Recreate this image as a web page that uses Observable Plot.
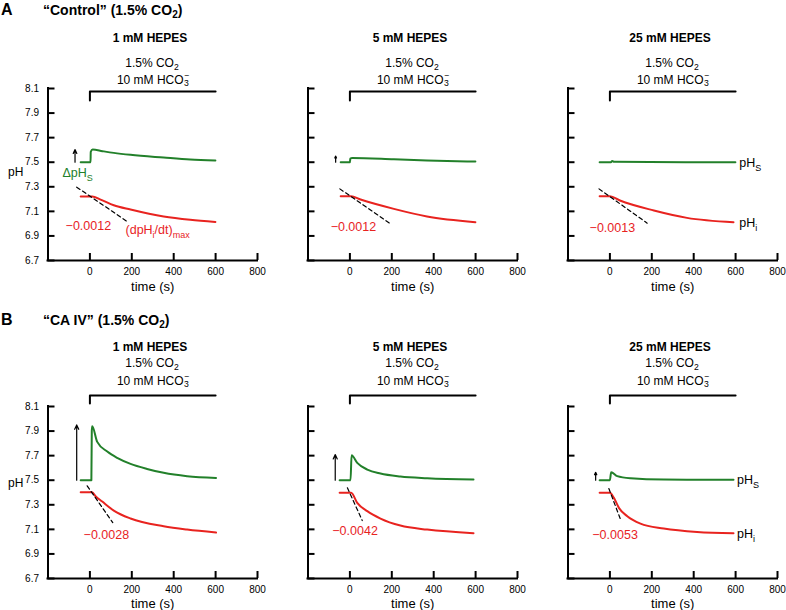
<!DOCTYPE html>
<html><head><meta charset="utf-8">
<script src="https://cdn.jsdelivr.net/npm/d3@7"></script>
<script src="https://cdn.jsdelivr.net/npm/@observablehq/plot@0.6"></script>
<style>
body{margin:0;background:#fff;font-family:"Liberation Sans",Arial,sans-serif;}
#root{position:relative;width:786px;height:610px;overflow:hidden;background:#fff;}
.lbl{position:absolute;white-space:nowrap;line-height:1;color:#000;}
.lbl sub{font-size:0.72em;vertical-align:-0.3em;line-height:0;}
.ss{display:inline-block;white-space:pre;font-size:0.72em;line-height:0.86em;vertical-align:-0.2em;text-align:left;margin:-0.5em 0 -0.3em 0.5px;}
svg.panel{position:absolute;overflow:visible;}
</style></head><body><div id="root"></div><script>
// ---------- data ----------
const rowLetters = ["A", "B"];
const rowTitles = ["“Control” (1.5% CO<sub>2</sub>)", "“CA IV” (1.5% CO<sub>2</sub>)"];
const hepes = ["1 mM HEPES", "5 mM HEPES", "25 mM HEPES"];
const co2Line1 = "1.5% CO<sub>2</sub>";
const co2Line2 = "10 mM HCO<span class=\"ss\">−\n3</span>";
const xTicks = [0, 200, 400, 600, 800];
const yTicks = [6.7, 6.9, 7.1, 7.3, 7.5, 7.7, 7.9, 8.1];
const co2Period = [0, 600];
const slopeLabels = [["−0.0012", "−0.0012", "−0.0013"], ["−0.0028", "−0.0042", "−0.0053"]];

// pHs (surface, green) traces [time s, pH]
const pHsA1 = [[-44,7.5],[3,7.5],[4,7.585],[13,7.603],[60,7.59],[114,7.576],[194,7.56],[352,7.538],[479,7.522],[599,7.514]];
const pHsA2 = [[-44,7.5],[0,7.5],[2,7.53],[11,7.535],[210,7.524],[368,7.514],[599,7.505]];
const pHsA3 = [[-49,7.5],[5,7.5],[11,7.51],[20,7.503],[599,7.5]];
const pHsB1 = [[-44,7.5],[7,7.5],[9,7.9],[11,7.94],[35,7.812],[83,7.733],[130,7.682],[194,7.633],[273,7.592],[352,7.56],[464,7.533],[602,7.519]];
const pHsB2 = [[-49,7.5],[3,7.5],[8,7.703],[35,7.641],[83,7.587],[146,7.554],[241,7.53],[369,7.516],[590,7.505]];
const pHsB3 = [[-49,7.5],[0,7.5],[6,7.565],[35,7.533],[99,7.516],[257,7.505],[590,7.503]];
// pHi (intracellular, red) traces
const pHiA1 = [[-44,7.221],[11,7.221],[51,7.196],[114,7.15],[194,7.115],[352,7.058],[479,7.031],[599,7.014]];
const pHiA2 = [[-44,7.223],[5,7.223],[51,7.196],[210,7.12],[368,7.058],[599,7.012]];
const pHiA3 = [[-49,7.223],[0,7.223],[48,7.188],[210,7.107],[368,7.047],[590,7.012]];
const pHiB1 = [[-44,7.402],[11,7.402],[27,7.37],[59,7.326],[114,7.253],[194,7.188],[352,7.125],[464,7.098],[602,7.074]];
const pHiB2 = [[-49,7.397],[6,7.397],[35,7.316],[83,7.248],[146,7.188],[241,7.131],[369,7.098],[590,7.069]];
const pHiB3 = [[-49,7.397],[0,7.397],[19,7.356],[43,7.275],[83,7.207],[146,7.147],[257,7.107],[416,7.079],[590,7.069]];
// (dpHi/dt)max tangent lines
const tanA1 = [[-63,7.297],[181,7.014]];
const tanA2 = [[-48,7.283],[199,6.993]];
const tanA3 = [[-52,7.283],[178,7.004]];
const tanB1 = [[-13,7.454],[109,7.155]];
const tanB2 = [[-12,7.438],[59,7.172]];
const tanB3 = [[-5,7.432],[54,7.166]];
// ΔpHs arrows: [time, pH from, pH to]
const dpHsA = [[-71,7.5,7.603],[-68,7.5,7.55],null];
const dpHsB = [[-63,7.5,7.95],[-70,7.5,7.709],[-68,7.5,7.565]];

// ---------- layout ----------
const green = "#22802a", red = "#e8231f";
const W = 260, ML = 47.5, MR = 3;
const rows = [{top: 0, height: 300, mt: 88, mb: 40, hep: 38, l1: 63, l2: 80, title: 9.5, bracket: [3, 12], pHy: 7.42},
              {top: 318, height: 292, mt: 88, mb: 32, hep: 347, l1: 363, l2: 381, title: 320, bracket: [-11, -3], pHy: 7.48}];
const ky = 172 / 1.4;
const slopePos = [[[-116,6.979],[-92,6.971],[-97,6.968]], [[-30,7.058],[-84,7.085],[-84,7.056]]];
const root = document.getElementById("root");

function label(html, x, yc, size, weight, anchor) {
  const d = document.createElement("div");
  d.className = "lbl";
  d.innerHTML = html;
  d.style.fontSize = size + "px";
  d.style.fontWeight = weight;
  d.style.top = (yc - 0.49 * size) + "px";
  d.style.left = x + "px";
  if (anchor === "middle") d.style.transform = "translateX(-50%)";
  root.appendChild(d);
}

function subify(svg, fs) {
  for (const t of svg.querySelectorAll("text")) {
    const s = t.textContent;
    if (!/[_^]\{/.test(s)) continue;
    while (t.firstChild) t.removeChild(t.firstChild);
    const re = /([_^])\{([^}]*)\}/g;
    let last = 0, m, shift = 0;
    const add = (txt, sh, small) => {
      const ts = document.createElementNS("http://www.w3.org/2000/svg", "tspan");
      ts.textContent = txt;
      const d = sh - shift;
      if (d) ts.setAttribute("dy", d);
      shift = sh;
      if (small) ts.setAttribute("font-size", fs * 0.72);
      t.appendChild(ts);
    };
    while ((m = re.exec(s))) {
      if (m.index > last) add(s.slice(last, m.index), 0, false);
      add(m[2], m[1] === "_" ? fs * 0.32 : -fs * 0.4, true);
      last = re.lastIndex;
    }
    if (last < s.length) add(s.slice(last), 0, false);
  }
}

const pHsAll = [[pHsA1, pHsA2, pHsA3], [pHsB1, pHsB2, pHsB3]];
const pHiAll = [[pHiA1, pHiA2, pHiA3], [pHiB1, pHiB2, pHiB3]];
const tanAll = [[tanA1, tanA2, tanA3], [tanB1, tanB2, tanB3]];
const dpHsAll = [dpHsA, dpHsB];
const px = d => d[0], py = d => d[1];

rows.forEach((R, r) => {
  label(rowLetters[r], 1, R.title, 16, "bold");
  label(rowTitles[r], 43, R.title, 14, "bold");
  for (let c = 0; c < 3; c++) {
    const cx = c * W;
    label(hepes[c], cx + 150, R.hep, 12, "bold", "middle");
    label(co2Line1, cx + 152, R.l1, 12, "normal", "middle");
    label(co2Line2, cx + 153, R.l2, 12, "normal", "middle");

    const yb0 = 8.1 - R.bracket[0] / ky, yb1 = 8.1 - R.bracket[1] / ky;
    const ax = dpHsAll[r][c];
    const kx = (W - ML - MR) / 1000;
    const marks = [
      Plot.ruleX([-200], {stroke: "black", strokeWidth: 2, strokeLinecap: "square"}),
      Plot.ruleY([6.7], {stroke: "black", strokeWidth: 2, strokeLinecap: "square"}),
      Plot.ruleX(xTicks, {y1: 6.7, y2: 6.7 + 7 / ky, stroke: "black", strokeWidth: 2}),
      Plot.ruleY(yTicks, {x1: -200, x2: -200 + 7 / kx, stroke: "black", strokeWidth: 2}),
      Plot.axisX({ticks: xTicks, tickSize: 0, tickPadding: 7, fontSize: 10, label: null, tickFormat: d => String(d)}),
      Plot.axisY({ticks: yTicks, tickSize: 0, tickPadding: 9, fontSize: 10, label: null, tickFormat: c === 0 ? d3.format(".1f") : () => ""}),
      Plot.text(["time (s)"], {frameAnchor: "bottom", x: 300, dy: r === 0 ? 26 : 25, fontSize: 13, lineAnchor: "middle"}),
      Plot.line([[co2Period[0], yb1], [co2Period[0], yb0], [co2Period[1], yb0]], {x: px, y: py, stroke: "black", strokeWidth: 2}),
      Plot.line(pHsAll[r][c], {x: px, y: py, stroke: green, strokeWidth: 2, curve: "monotone-x"}),
      Plot.line(pHiAll[r][c], {x: px, y: py, stroke: red, strokeWidth: 2, curve: "monotone-x"}),
      Plot.line(tanAll[r][c], {x: px, y: py, stroke: "black", strokeWidth: 1.2, strokeDasharray: "4,3"}),
      Plot.text([slopeLabels[r][c]], {x: slopePos[r][c][0], y: slopePos[r][c][1], textAnchor: "start", fill: red, fontSize: 12.5})
    ];
    if (ax) marks.push(Plot.arrow([ax], {x1: d => d[0], x2: d => d[0], y1: d => d[1], y2: d => d[2], stroke: "black", strokeWidth: 1.2, headLength: 6, headAngle: 50}));
    if (c === 0) marks.push(Plot.text(["pH"], {frameAnchor: "left", dx: -40, y: R.pHy, fontSize: 12}));
    if (r === 0 && c === 0) {
      marks.push(Plot.text(["ΔpH_{S}"], {x: -131, y: 7.41, textAnchor: "start", fill: green, fontSize: 12.5}));
      marks.push(Plot.text(["(dpH_{i}/dt)_{max}"], {x: 170, y: 6.945, textAnchor: "start", fill: red, fontSize: 12.5}));
    }
    if (c === 2) {
      marks.push(Plot.text(["pH_{S}"], {x: r === 0 ? 618 : 607, y: r === 0 ? 7.492 : 7.498, textAnchor: "start", fill: "black", fontSize: 12.5}));
      marks.push(Plot.text(["pH_{i}"], {x: r === 0 ? 618 : 607, y: r === 0 ? 7.009 : 7.066, textAnchor: "start", fill: "black", fontSize: 12.5}));
    }
    const svg = Plot.plot({
      width: W, height: R.height,
      marginLeft: ML, marginRight: MR, marginTop: R.mt, marginBottom: R.mb,
      x: {domain: [-200, 800]},
      y: {domain: [6.7, 8.1]},
      style: {fontFamily: "Liberation Sans, Arial, sans-serif", background: "transparent", overflow: "visible"},
      marks
    });
    svg.classList.add("panel");
    svg.style.left = cx + "px";
    svg.style.top = R.top + "px";
    subify(svg, 12.5);
    root.appendChild(svg);
  }
});
</script></body></html>
